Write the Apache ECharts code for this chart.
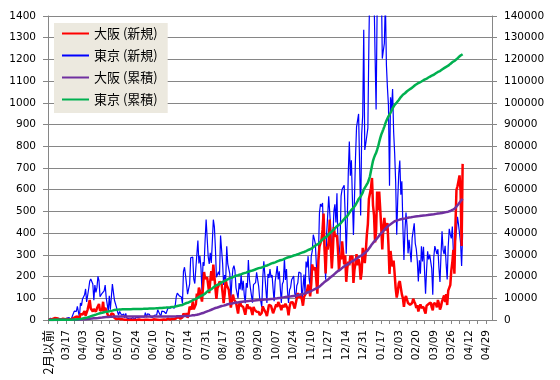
<!DOCTYPE html>
<html><head><meta charset="utf-8">
<script src="https://cdn.jsdelivr.net/npm/echarts@6/dist/echarts.min.js"></script>
<style>html,body{margin:0;padding:0;background:#fff}#c{width:560px;height:380px}</style>
</head><body><div id="c"></div>
<script>
// index 0 = "2月以前", then daily from 2020-03-01
const firstLabel = '2月以前';
const categoryCount = 431;
const tickLabels = ['2月以前','03/17','04/03','04/20','05/07','05/24','06/10','06/27','07/14','07/31','08/17','09/03','09/20','10/07','10/24','11/10','11/27','12/14','12/31','01/17','02/03','02/20','03/09','03/26','04/12','04/29'];
const seriesNames = ['大阪 (新規)','東京 (新規)','大阪 (累積)','東京 (累積)'];

const osakaNew = [0,
2,3,6,5,5,9,11,8,3,5,6,3,4,6,2,4,7,5,3,2,2,4,1,8,7,14,18,16,9,5,28,
34,25,25,41,20,27,48,44,92,53,62,39,51,45,38,54,46,74,43,41,46,84,34,56,46,30,18,25,14,30,
22,27,10,7,4,3,7,4,3,8,3,2,1,0,1,1,0,0,1,0,0,1,1,0,0,0,2,0,0,1,0,
0,1,0,1,2,0,1,0,0,3,1,2,1,1,0,0,2,1,3,2,3,1,2,6,3,2,7,5,3,4,
5,8,9,14,10,6,13,12,30,29,18,32,10,27,61,66,49,86,49,41,72,121,104,149,132,141,85,155,221,190,195,
196,194,124,180,225,181,255,202,146,97,147,157,177,175,166,125,78,118,187,160,155,139,97,57,89,117,95,90,80,72,30,
71,82,66,71,60,52,24,54,72,54,50,58,42,23,60,48,51,38,44,37,22,16,33,63,50,51,33,18,44,70,
66,65,61,31,38,58,72,60,83,76,61,45,68,71,60,75,71,53,21,60,81,88,82,76,53,56,100,124,101,120,114,
94,66,106,101,125,135,163,143,109,164,256,231,239,242,180,121,273,338,338,370,415,490,322,214,338,324,366,463,332,237,
318,428,386,393,389,322,225,299,279,362,366,256,298,176,239,269,252,296,280,297,171,231,262,303,252,280,253,186,221,332,308,
262,317,392,442,557,560,607,654,528,482,357,411,592,505,591,510,424,325,426,470,413,407,446,343,212,318,273,246,274,212,146,
103,128,169,179,148,118,101,60,99,110,110,78,86,70,64,78,98,85,75,55,68,39,58,72,56,58,60,42,
30,66,69,74,71,80,58,45,78,77,74,58,92,75,48,62,86,77,113,83,119,69,135,127,161,227,266,323,213,432,599,
616,613,666,593,341,719];

const tokyoNew = [0,
1,8,3,4,8,6,5,2,3,8,7,3,3,1,3,4,2,9,6,11,7,2,16,17,41,47,40,63,68,13,78,
66,97,89,116,143,83,79,144,178,189,197,166,91,161,127,149,201,181,107,102,123,132,134,161,103,72,39,112,47,46,
165,160,91,87,58,38,23,39,36,22,15,28,10,30,9,14,5,10,5,5,11,3,2,14,8,10,11,15,22,14,5,
13,34,12,28,20,26,14,13,12,18,22,25,24,47,48,27,16,41,35,39,35,29,31,55,48,54,57,60,58,54,
67,107,124,131,111,102,106,75,224,243,206,206,119,143,165,286,293,290,188,168,237,238,366,260,295,239,131,266,250,367,463,
472,292,258,309,263,360,462,429,331,197,188,222,206,389,385,260,161,207,186,339,258,256,212,95,182,236,250,226,148,148,100,
170,141,211,136,181,116,77,170,149,276,187,146,146,80,163,163,172,220,218,155,98,88,59,195,270,270,143,78,212,194,
235,196,207,143,87,177,169,248,187,224,146,78,166,177,284,184,235,132,78,139,150,185,186,203,124,102,158,171,221,215,215,
87,87,209,122,269,242,294,189,157,293,317,393,374,352,255,180,298,493,534,522,539,391,314,186,401,481,570,561,418,311,
372,500,533,449,584,327,299,352,572,602,595,621,480,305,460,678,822,664,736,556,392,563,748,888,884,949,708,481,856,944,1337,
783,814,816,884,1278,1591,2447,2392,2268,1494,1219,970,1433,1502,2044,1809,1592,1204,1240,1274,1471,1175,1070,986,618,1026,973,1064,868,769,633,
393,556,676,734,577,639,429,276,412,495,434,307,369,371,266,378,378,445,353,327,272,178,275,213,340,270,337,329,
121,232,316,279,301,293,237,116,290,340,335,304,326,239,175,300,409,323,303,342,256,187,337,420,394,376,430,313,234,364,414,
475,440,446,355,249,399];

const osakaCum = [0,
2,5,11,16,21,30,41,49,52,57,63,66,70,76,78,82,89,94,97,99,101,105,106,114,121,135,153,169,178,183,211,
245,270,295,336,356,383,431,475,567,620,682,721,772,817,855,909,955,1029,1072,1113,1159,1243,1277,1333,1379,1409,1427,1452,1466,1496,
1518,1545,1555,1562,1566,1569,1576,1580,1583,1591,1594,1596,1597,1597,1598,1599,1599,1599,1600,1600,1600,1601,1602,1602,1602,1602,1604,1604,1604,1605,1605,
1605,1606,1606,1607,1609,1609,1610,1610,1610,1613,1614,1616,1617,1618,1618,1618,1620,1621,1624,1626,1629,1630,1632,1638,1641,1643,1650,1655,1658,1662,
1667,1675,1684,1698,1708,1714,1727,1739,1769,1798,1816,1848,1858,1885,1946,2012,2061,2147,2196,2237,2309,2430,2534,2683,2815,2956,3041,3196,3417,3607,3802,
3998,4192,4316,4496,4721,4902,5157,5359,5505,5602,5749,5906,6083,6258,6424,6549,6627,6745,6932,7092,7247,7386,7483,7540,7629,7746,7841,7931,8011,8083,8113,
8184,8266,8332,8403,8463,8515,8539,8593,8665,8719,8769,8827,8869,8892,8952,9000,9051,9089,9133,9170,9192,9208,9241,9304,9354,9405,9438,9456,9500,9570,
9636,9701,9762,9793,9831,9889,9961,10021,10104,10180,10241,10286,10354,10425,10485,10560,10631,10684,10705,10765,10846,10934,11016,11092,11145,11201,11301,11425,11526,11646,11760,
11887,11987,12126,12260,12419,12587,12783,12960,13102,13299,13589,13853,14125,14401,14614,14768,15075,15446,15817,16221,16669,17192,17548,17795,18166,18524,18923,19419,19785,20055,
20421,20898,21332,21774,22211,22581,22855,23202,23529,23940,24354,24659,25005,25229,25517,25834,26135,26479,26807,27153,27372,27652,27962,28313,28614,28942,29243,29478,29747,30128,30484,
30827,31224,31697,32220,32857,33498,34186,34920,35529,36091,36529,37021,37693,38279,38951,39541,40046,40452,40958,41509,42003,42490,43017,43440,43733,44132,44485,44812,45167,45459,45686,
45789,45917,46086,46265,46413,46531,46632,46692,46791,46901,47011,47089,47175,47245,47309,47387,47485,47570,47645,47700,47768,47807,47865,47937,47993,48051,48111,48153,
48183,48249,48318,48392,48463,48543,48601,48646,48724,48801,48875,48933,49025,49100,49148,49210,49296,49373,49486,49569,49688,49757,49892,50019,50180,50407,50673,50996,51209,51641,52240,
52856,53469,54135,54728,55069,55788];

const tokyoCum = [39,
40,48,51,55,63,69,74,76,79,87,94,97,100,101,104,108,110,119,125,136,143,145,161,178,219,266,306,369,437,450,528,
594,691,780,896,1039,1122,1201,1345,1523,1712,1909,2075,2166,2327,2454,2603,2804,2985,3092,3194,3317,3449,3583,3744,3847,3919,3958,4070,4117,4163,
4328,4488,4579,4666,4724,4762,4785,4824,4860,4882,4897,4925,4935,4965,4974,4988,4993,5003,5008,5013,5024,5027,5029,5043,5051,5061,5072,5087,5109,5123,5128,
5141,5175,5187,5215,5235,5261,5275,5288,5300,5318,5340,5365,5389,5436,5484,5511,5527,5568,5603,5642,5677,5706,5737,5792,5840,5894,5951,6011,6069,6123,
6190,6297,6421,6552,6663,6765,6871,6946,7170,7413,7619,7825,7944,8087,8252,8538,8831,9121,9309,9477,9714,9952,10318,10578,10873,11112,11243,11509,11759,12126,12589,
13061,13353,13611,13920,14183,14543,15005,15434,15765,15962,16150,16372,16578,16967,17352,17612,17773,17980,18166,18505,18763,19019,19231,19326,19508,19744,19994,20220,20368,20516,20616,
20786,20927,21138,21274,21455,21571,21648,21818,21967,22243,22430,22576,22722,22802,22965,23128,23300,23520,23738,23893,23991,24079,24138,24333,24603,24873,25016,25094,25306,25500,
25735,25931,26138,26281,26368,26545,26714,26962,27149,27373,27519,27597,27763,27940,28224,28408,28643,28775,28853,28992,29142,29327,29513,29716,29840,29942,30100,30271,30492,30707,30922,
31009,31096,31305,31427,31696,31938,32232,32421,32578,32871,33188,33581,33955,34307,34562,34742,35040,35533,36067,36589,37128,37519,37833,38019,38420,38901,39471,40032,40450,40761,
41133,41633,42166,42615,43199,43526,43825,44177,44749,45351,45946,46567,47047,47352,47812,48490,49312,49976,50712,51268,51660,52223,52971,53859,54743,55692,56400,56881,57737,58681,60018,
60801,61615,62431,63315,64593,66184,68631,71023,73291,74785,76004,76974,78407,79909,81953,83762,85354,86558,87798,89072,90543,91718,92788,93774,94392,95418,96391,97455,98323,99092,99725,
100118,100674,101350,102084,102661,103300,103729,104005,104417,104912,105346,105653,106022,106393,106659,107037,107415,107860,108213,108540,108812,108990,109265,109478,109818,110088,110425,110754,
110875,111107,111423,111702,112003,112296,112533,112649,112939,113279,113614,113918,114244,114483,114658,114958,115367,115690,115993,116335,116591,116778,117115,117535,117929,118305,118735,119048,119282,119646,120060,
120535,120975,121421,121776,122025,122424];

// category strings: first label, then consecutive days from 2020-03-01
const categories = [firstLabel];
for (let i = 1; i < categoryCount; i++) {
  const d = new Date(Date.UTC(2020, 2, i));
  const mm = String(d.getUTCMonth() + 1).padStart(2, '0');
  const dd = String(d.getUTCDate()).padStart(2, '0');
  categories.push(mm + '/' + dd);
}

const FONT = 'DejaVu Sans';
const GRID_GREY = '#868686';
const chart = echarts.init(document.getElementById('c'), null, {renderer: 'canvas'});
const lineSeries = (name, data, color, width, yIdx, z) => ({
  name, type: 'line', data, yAxisIndex: yIdx, showSymbol: false, symbol: 'none',
  lineStyle: {color, width}, itemStyle: {color}, z, clip: true, animation: false
});
chart.setOption({
  animation: false,
  backgroundColor: '#fff',
  grid: {left: 48, right: 68, top: 16, bottom: 60},
  legend: {
    show: true, data: seriesNames, orient: 'vertical', left: 54, top: 23,
    backgroundColor: '#ECE9DF', borderWidth: 0, padding: [4, 10, 7, 7],
    itemWidth: 27, itemHeight: 14, itemGap: 9,
    itemStyle: {opacity: 0},
    textStyle: {fontFamily: 'Noto Sans CJK JP', fontSize: 13, color: '#000'},
    selectedMode: false
  },
  xAxis: {
    type: 'category', data: categories, boundaryGap: true,
    axisLine: {lineStyle: {color: GRID_GREY, width: 1}},
    axisTick: {show: true, length: 4, inside: false, alignWithLabel: true,
      interval: (i) => i % 17 === 0 || i % 17 === 8, lineStyle: {color: GRID_GREY}},
    axisLabel: {
      interval: (i) => i % 17 === 0 && tickLabels.indexOf(categories[i]) >= 0,
      rotate: 90, margin: 10, color: '#000', fontFamily: FONT, fontSize: 10.5,
      formatter: (v) => v === firstLabel ? '{j|' + v + '}' : v,
      rich: {j: {fontFamily: 'Noto Sans CJK JP', fontSize: 12.5, color: '#000'}}
    },
    splitLine: {show: false}
  },
  yAxis: [
    {type: 'value', min: 0, max: 1400, interval: 100, position: 'left',
     axisLine: {show: true, lineStyle: {color: GRID_GREY}},
     axisTick: {show: true, length: 5, lineStyle: {color: GRID_GREY}},
     axisLabel: {margin: 12, color: '#000', fontFamily: FONT, fontSize: 10.5, formatter: (v) => String(v)},
     splitLine: {show: true, lineStyle: {color: GRID_GREY, width: 1}}},
    {type: 'value', min: 0, max: 140000, interval: 10000, position: 'right',
     axisLine: {show: true, lineStyle: {color: GRID_GREY}},
     axisTick: {show: true, length: 5, lineStyle: {color: GRID_GREY}},
     axisLabel: {margin: 12, color: '#000', fontFamily: FONT, fontSize: 10.5, formatter: (v) => String(v)},
     splitLine: {show: false}}
  ],
  series: [
    lineSeries(seriesNames[0], osakaNew, '#FF0000', 2.5, 0, 3),
    lineSeries(seriesNames[1], tokyoNew, '#0000FF', 1.2, 0, 2),
    lineSeries(seriesNames[2], osakaCum, '#7030A0', 2.5, 1, 4),
    lineSeries(seriesNames[3], tokyoCum, '#00B050', 2.5, 1, 5)
  ]
});
</script></body></html>
